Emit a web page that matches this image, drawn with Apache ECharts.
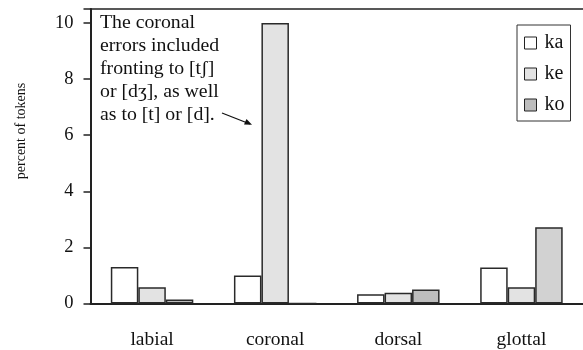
<!DOCTYPE html>
<html><head><meta charset="utf-8">
<script src="https://cdn.jsdelivr.net/npm/echarts@6/dist/echarts.min.js"></script>
<style>html,body{margin:0;padding:0;background:#fff}#c{width:583px;height:350px}</style>
</head><body><div id="c"></div>
<script>
var categories = ['labial', 'coronal', 'dorsal', 'glottal'];
var seriesNames = ['ka', 'ke', 'ko'];
var kaValues = [1.3, 1.0, 0.33, 1.28];
var keValues = [0.58, 10.0, 0.38, 0.58];
var koValues = [0.14, 0, 0.5, 2.72];
var yTicks = [0, 2, 4, 6, 8, 10];
var noteLines = ['The coronal', 'errors included', 'fronting to [t\u0283]', 'or [d\u0292], as well', 'as to [t] or [d].'];

var FONT = '"Liberation Serif", "Times New Roman", serif';
var chart = echarts.init(document.getElementById('c'));
var fills = ['#ffffff', '#e3e3e3', '#bdbdbd'];
var vals = [kaValues, keValues, koValues];

var series = seriesNames.map(function (n, i) {
  return {
    name: n, type: 'bar', barWidth: 27.5, barGap: '0%', xAxisIndex: 0,
    data: vals[i].map(function (v, j) {
      var d = { value: v };
      if (i === 2 && j === 3) d.itemStyle = { color: '#d2d2d2' };
      return d;
    }),
    itemStyle: { color: fills[i], borderColor: '#2a2a2a', borderWidth: 1.5 },
    emphasis: { disabled: true },
    animation: false
  };
});

chart.setOption({
  animation: false,
  grid: { left: 90.5, top: 9, right: -3, bottom: 46.5 },
  legend: {
    orient: 'vertical', left: 517, top: 25,
    data: seriesNames, icon: 'rect', itemWidth: 12, itemHeight: 12, itemGap: 11,
    padding: [8, 6, 6, 7],
    borderColor: '#333', borderWidth: 1,
    textStyle: { fontFamily: FONT, fontSize: 20, color: '#111', padding: [0, 0, 0, 3] },
    itemStyle: { borderColor: '#222', borderWidth: 1 },
    selectedMode: false
  },
  xAxis: [{
    type: 'category', data: categories,
    axisLine: { lineStyle: { color: '#222', width: 2 } },
    axisTick: { show: false },
    axisLabel: { fontFamily: FONT, fontSize: 19.5, color: '#111', margin: 26 }
  }, {
    type: 'category', data: categories, position: 'top',
    axisLine: { show: true, lineStyle: { color: '#222', width: 1.5 } },
    axisTick: { show: false }, axisLabel: { show: false }
  }],
  yAxis: {
    type: 'value', min: 0, max: 10.5, interval: 2,
    splitLine: { show: false },
    axisLine: { show: true, lineStyle: { color: '#222', width: 2 } },
    axisTick: { show: true, length: 7, lineStyle: { color: '#222', width: 1.5 } },
    axisLabel: {
      fontFamily: FONT, fontSize: 18.5, color: '#111', margin: 17,
      formatter: function (v) { return yTicks.indexOf(v) >= 0 ? String(v) : ''; }
    }
  },
  graphic: [
    { type: 'text', left: 100, top: 11, style: { text: noteLines.join('\n'), font: '19.8px ' + FONT, lineHeight: 23, fill: '#111' } },
    { type: 'line', shape: { x1: 222, y1: 113, x2: 250, y2: 124 }, style: { stroke: '#111', lineWidth: 1.3 } },
    { type: 'polygon', shape: { points: [[252, 124.8], [244, 124.5], [246.5, 119]] }, style: { fill: '#111' } },
    { type: 'text', x: 21, y: 131, rotation: Math.PI / 2, style: { text: 'percent of tokens', font: '14px ' + FONT, fill: '#111', align: 'center', verticalAlign: 'middle' } }
  ],
  series: series
});
</script></body></html>
